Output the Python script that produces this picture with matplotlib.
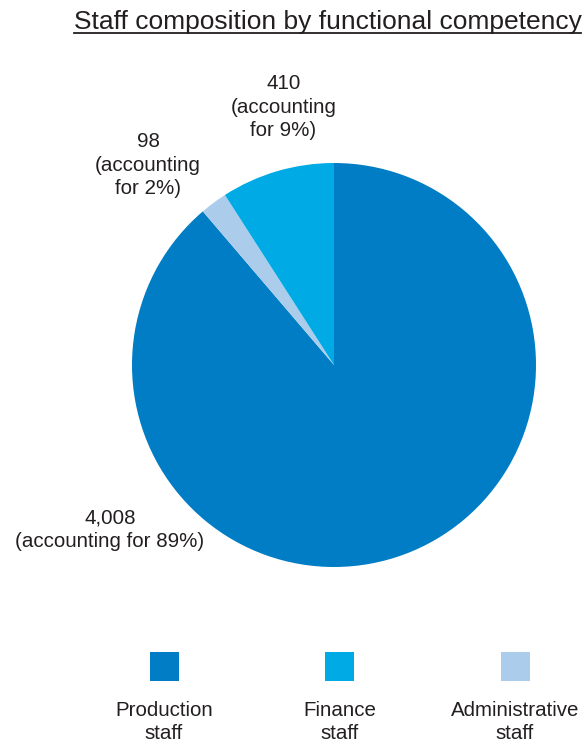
import matplotlib
matplotlib.use("Agg")
from matplotlib.pyplot import figure
from matplotlib.lines import Line2D
from matplotlib.patches import Rectangle

categories = ["Production\nstaff", "Finance\nstaff", "Administrative\nstaff"]
counts = [4008, 410, 98]
shares = [89, 9, 2]
colors = ["#007DC4", "#00ABE5", "#ABCDEB"]
# clockwise order of slices, starting at 12 o'clock
pie_order = [0, 2, 1]
# label anchors in pie units (radius = 1)
label_pos = [(-1.11, -0.815), (-0.25, 1.275), (-0.92, 0.99)]

TEXT = "#231F20"
FONT = "Liberation Sans"
W, H = 586, 747

fig = figure(figsize=(W / 100, H / 100), dpi=100)

# Pie
ax = fig.add_axes([132 / W, (H - 567) / H, 404 / W, 404 / H])
ax.pie(
    [counts[i] for i in pie_order],
    colors=[colors[i] for i in pie_order],
    startangle=90,
    counterclock=False,
    radius=1,
    wedgeprops={"linewidth": 0},
)
ax.set_xlim(-1, 1)
ax.set_ylim(-1, 1)
ax.set_aspect("equal")
ax.axis("off")

for i, (x, y) in enumerate(label_pos):
    if i == 0:
        txt = "{:,}\n(accounting for {}%)".format(counts[i], shares[i])
    else:
        txt = "{:,}\n(accounting\nfor {}%)".format(counts[i], shares[i])
    ax.text(x, y, txt, ha="center", va="center", fontsize=14.8,
            family=FONT, color=TEXT, linespacing=1.3, clip_on=False)

# Title (underlined)
title = fig.text(327.5 / W, 1 - 29 / H, "Staff composition by functional competency",
                 ha="center", va="baseline", fontsize=19, family=FONT, color=TEXT)
fig.canvas.draw()
bb = title.get_window_extent()
uy = 1 - 33 / H
fig.add_artist(Line2D([bb.x0 / W, bb.x1 / W], [uy, uy], color=TEXT, linewidth=1.3,
                      transform=fig.transFigure))

# Legend (manual: swatch above label)
lax = fig.add_axes([0, 0, 1, 1], zorder=-1)
lax.set_xlim(0, W)
lax.set_ylim(H, 0)
lax.axis("off")
x0, dx, sq = 164, 175.5, 29
for i, (cat, col) in enumerate(zip(categories, colors)):
    cx = x0 + i * dx
    lax.add_patch(Rectangle((cx - sq / 2, 652), sq, sq, facecolor=col, linewidth=0))
    lax.text(cx, 722, cat, ha="center", va="center", fontsize=14.8,
             family=FONT, color=TEXT, linespacing=1.3)

fig.savefig("out.png", dpi=100)
